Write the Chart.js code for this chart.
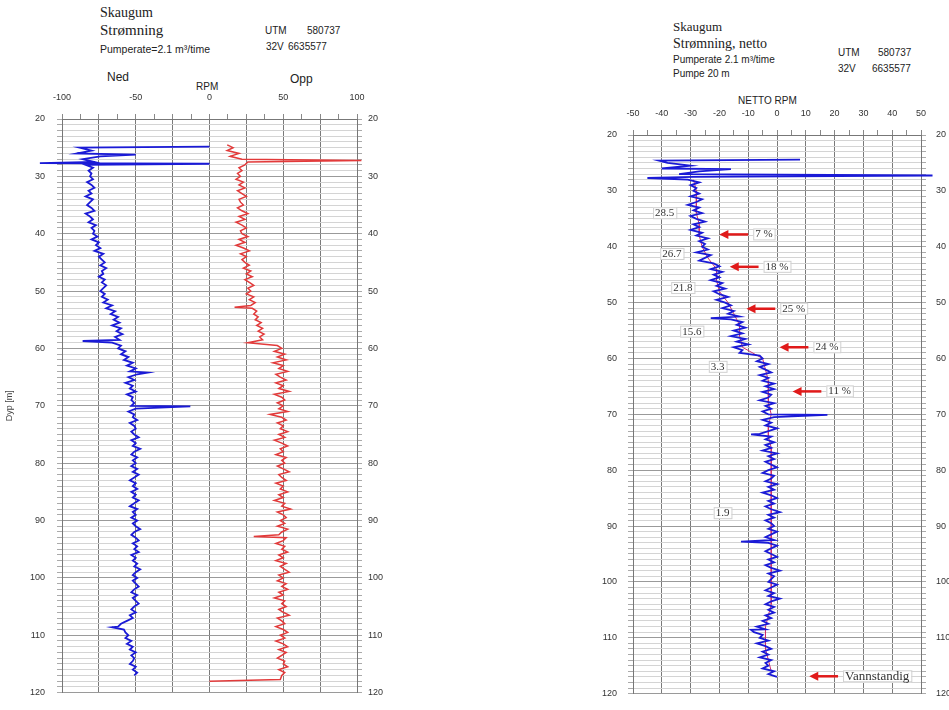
<!DOCTYPE html>
<html>
<head>
<meta charset="utf-8">
<script src="https://cdn.jsdelivr.net/npm/chart.js@4.4.0/dist/chart.umd.min.js"></script>
<style>
  body { margin: 0; background: #fff; width: 949px; height: 710px; overflow: hidden; position: relative;
         font-family: "Liberation Sans", Arial, sans-serif; color: #222; }
  .t { position: absolute; white-space: pre; line-height: 1; }
  .serif { font-family: "Liberation Serif", "Times New Roman", serif; }
  canvas { position: absolute; top: 0; }
</style>
</head>
<body>
<!-- left panel header -->
<div class="t serif" style="left:100px;top:6px;font-size:14px">Skaugum</div>
<div class="t serif" style="left:100px;top:23px;font-size:15px">Strømning</div>
<div class="t" style="left:100px;top:44px;font-size:10.5px">Pumperate=2.1 m³/time</div>
<div class="t" style="left:265px;top:26px;font-size:10px">UTM</div>
<div class="t" style="left:307px;top:26px;font-size:10px">580737</div>
<div class="t" style="left:266px;top:42px;font-size:10px">32V</div>
<div class="t" style="left:288px;top:42px;font-size:10px">6635577</div>
<div class="t" style="left:107px;top:71px;font-size:12px">Ned</div>
<div class="t" style="left:196px;top:82px;font-size:10px">RPM</div>
<div class="t" style="left:290px;top:73px;font-size:12px">Opp</div>

<!-- right panel header -->
<div class="t serif" style="left:673px;top:20px;font-size:13px">Skaugum</div>
<div class="t serif" style="left:673px;top:37px;font-size:14px">Strømning, netto</div>
<div class="t" style="left:673px;top:55px;font-size:10px">Pumperate 2.1 m³/time</div>
<div class="t" style="left:673px;top:69px;font-size:10px">Pumpe 20 m</div>
<div class="t" style="left:838px;top:48px;font-size:10px">UTM</div>
<div class="t" style="left:878px;top:48px;font-size:10px">580737</div>
<div class="t" style="left:838px;top:64px;font-size:10px">32V</div>
<div class="t" style="left:872px;top:64px;font-size:10px">6635577</div>
<div class="t" style="left:738px;top:96px;font-size:10px">NETTO RPM</div>

<canvas id="rawChart" width="400" height="710" style="left:0"></canvas>
<canvas id="nettoChart" width="389" height="710" style="left:560px"></canvas>

<script>
// depth sampling of the logged traces (m)
const depthTop = 25, depthStep = 0.5;

// Ned (downward flow, RPM), 25 - 117 m
const ned = [
  -88,-80,-90,-74,-86,-78,-84,-79,-82,-80,
  -81,-79,-83,-80,-78,-82,-80,-84,-79,-81,
  -83,-80,-78,-84,-81,-79,-82,-77,-80,-78,
  -79,-76,-80,-75,-77,-74,-78,-72,-75,-73,
  -71,-74,-70,-73,-72,-75,-71,-73,-70,-72,
  -74,-71,-73,-69,-72,-66,-70,-64,-67,-62,
  -65,-61,-66,-60,-63,-59,-64,-61,-66,-60,
  -62,-57,-60,-55,-58,-52,-56,-50,-54,-49,
  -55,-51,-57,-52,-54,-50,-56,-52,-53,-51,
  -53,-50,-55,-51,-52,-49,-54,-51,-50,-53,
  -51,-48,-53,-50,-52,-47,-51,-53,-49,-52,
  -50,-53,-49,-52,-48,-51,-54,-50,-52,-49,
  -53,-50,-52,-48,-51,-54,-49,-52,-50,-53,
  -49,-52,-50,-47,-51,-53,-50,-48,-52,-49,
  -51,-48,-53,-50,-52,-49,-51,-47,-50,-52,
  -49,-52,-50,-48,-51,-53,-49,-52,-50,-48,
  -51,-53,-50,-54,-52,-56,-60,-62,-58,-57,
  -55,-57,-53,-56,-52,-54,-50,-53,-51,-52,
  -54,-50,-52,-49,-51
];
// single readings between the regular samples [depth, RPM]
const nedSpikes = [[24.8, 0], [26.2, -50], [27.7, -115], [27.8, 0], [58.7, -86], [64.2, -42], [70.1, -13], [108.6, -66]];

// Opp (upward flow, RPM), 25 - 117 m
const opp = [
  16,12,20,14,22,26,24,20,22,19,
  21,18,23,20,24,19,22,25,20,21,
  23,19,22,26,20,24,18,22,25,21,
  22,26,20,24,18,23,27,21,25,22,
  24,27,23,28,25,29,24,27,30,26,
  28,25,30,27,31,28,29,32,30,33,
  31,35,32,36,33,37,34,36,26,46,
  49,44,51,46,52,43,50,47,53,45,
  48,52,45,50,47,54,44,49,51,46,
  50,47,53,41,49,52,46,50,48,53,
  47,51,44,49,53,48,50,45,52,49,
  51,46,50,54,47,49,52,45,50,48,
  53,47,50,44,51,49,55,46,50,52,
  48,51,46,53,49,47,52,50,45,51,
  49,53,47,50,45,52,48,51,54,47,
  50,46,52,49,53,47,50,44,51,49,
  52,47,50,54,46,49,51,45,50,53,
  48,51,45,50,53,47,52,49,46,51,
  50,53,47,51,49
];
const oppSpikes = [[24.5, 12], [27.25, 103], [52.8, 17], [92.8, 30], [117.7, 48], [118, 0]];

// Netto RPM, 25 - 117 m
const netto = [
  -38,-30,-40,-27,-34,-29,-31,-27,-30,-28,
  -29,-27,-30,-26,-28,-31,-27,-29,-26,-30,
  -28,-25,-29,-27,-30,-26,-28,-24,-27,-25,
  -26,-24,-28,-23,-25,-27,-22,-20,-23,-19,
  -22,-20,-23,-19,-21,-18,-22,-20,-17,-21,
  -18,-16,-19,-15,-17,-13,-16,-12,-14,-11,
  -15,-12,-16,-11,-14,-10,-15,-12,-13,-6,
  -5,-7,-3,-6,-4,-2,-6,-3,-5,-1,
  -4,-1,-5,-2,-3,-6,-1,-4,-2,-5,
  -3,-1,-5,-2,-4,0,-3,-6,-2,-4,
  -1,-4,-2,-5,0,-3,-1,-4,-2,0,
  -3,-5,-1,-2,-4,0,-3,-1,-5,-2,
  0,-3,-1,-4,-2,1,-3,-1,-4,-2,
  -1,-3,0,-2,-4,-1,-3,0,-2,-4,
  -2,0,-3,-1,-4,-2,1,-3,-1,-2,
  -3,0,-2,-4,-1,-3,1,-2,-4,-1,
  -3,-1,-4,-2,-5,-3,-7,-4,-8,-5,
  -6,-3,-7,-4,-2,-5,-3,-6,-2,-4,
  -3,-5,-1,-3,0
];
const nettoSpikes = [[24.4, 8], [24.6, -41], [26.1, -16], [27.25, 54], [27.7, -45], [52.8, -23], [70.1, 17.5], [73.6, -9], [92.8, -12.5], [108.6, -9]];

// smoothed netto curve (red)
const smoothDepth = [28,30,32,34,36,38,40,42,44,46,48,50,52,54,56,58,60,62,64,66,68,70,72,74,76,78,80,82,84,86,88,90,92,94,96,98,100,102,104,106,108,110,112,114,116];
const smoothRpm = [-29,-28,-28,-28,-27,-27,-26,-24,-21,-21,-20,-17,-15,-13,-13,-12,-5,-4,-3,-3,-3,-2,-3,-3,-2,-2,-2,-2,-2,-2,-2,-2,-2,-2,-2,-2,-2,-2,-2,-3,-4,-4,-4,-3,-2];

// labels on the netto panel
const sectionText = ['28.5', '26.7', '21.8', '15.6', '3.3', '1.9'];
const sectionRpm = [-39, -36.5, -32.7, -29.6, -20.6, -18.9];
const sectionDepth = [34, 41.3, 47.4, 55.2, 61.5, 87.7];
const inflowText = ['7 %', '18 %', '25 %', '24 %', '11 %', 'Vannstandig'];
const inflowRpm = [-20, -16.4, -10.6, 0.9, 5.4, 11.2];
const inflowDepth = [37.8, 43.6, 51.1, 58, 65.9, 116.9];

function trace(values, extra) {
  const pts = values.map((v, i) => ({ x: v, y: depthTop + i * depthStep }));
  extra.forEach(([d, v]) => pts.push({ x: v, y: d }));
  return pts.sort((a, b) => a.y - b.y);
}

function depthAxis(pos, width, pad) {
  return {
    type: 'linear', position: pos, min: 20, max: 120, reverse: true,
    afterFit: s => { s.width = width; },
    ticks: {
      stepSize: 1, maxTicksLimit: 200, autoSkip: false, padding: pad, color: '#333', font: { size: 9 },
      callback: v => (v % 10 === 0 ? String(v) : '')
    },
    grid: {
      drawOnChartArea: pos === 'left',
      color: c => (c.tick && c.tick.value % 10 === 0 ? '#9a9a9a' : '#d4d4d4'),
      tickColor: '#aaa', tickLength: 5
    },
    border: { color: '#777' }
  };
}

function rpmAxis(min, max, step, labelEvery, lineEvery) {
  return {
    type: 'linear', position: 'top', min: min, max: max,
    afterFit: s => { s.height = 30; },
    ticks: {
      stepSize: step, maxTicksLimit: 100, autoSkip: false, maxRotation: 0, padding: 11, color: '#333', font: { size: 9 },
      callback: v => (Math.abs(v % labelEvery) < 1e-6 ? String(v) : '')
    },
    grid: {
      color: c => (c.tick && Math.abs(c.tick.value % lineEvery) < 1e-6 ? '#7a7a7a' : 'rgba(0,0,0,0)'),
      tickColor: '#888', tickLength: 5
    },
    border: { color: '#777' }
  };
}

// arrows and boxed numbers on the netto panel
const nettoLabels = {
  id: 'nettoLabels',
  afterDatasetsDraw(chart) {
    const ctx = chart.ctx, xs = chart.scales.x, ys = chart.scales.y;
    ctx.save();
    ctx.textBaseline = 'middle';
    ctx.font = '11px "Liberation Serif", serif';
    sectionText.forEach((t, i) => {
      const x = xs.getPixelForValue(sectionRpm[i]), y = ys.getPixelForValue(sectionDepth[i]);
      const w = ctx.measureText(t).width + 4;
      ctx.fillStyle = '#fff';
      ctx.fillRect(x - w / 2, y - 6, w, 12);
      ctx.strokeStyle = '#d0d0d0';
      ctx.lineWidth = 1;
      ctx.strokeRect(x - w / 2 + 0.5, y - 5.5, w, 11);
      ctx.fillStyle = '#333';
      ctx.textAlign = 'center';
      ctx.fillText(t, x, y);
    });
    inflowText.forEach((t, i) => {
      const head = xs.getPixelForValue(inflowRpm[i]);
      const tail = xs.getPixelForValue(inflowRpm[i] + 10);
      const y = ys.getPixelForValue(inflowDepth[i]);
      ctx.strokeStyle = '#e01a1a';
      ctx.fillStyle = '#e01a1a';
      ctx.lineWidth = 2.5;
      ctx.beginPath();
      ctx.moveTo(tail, y);
      ctx.lineTo(head + 6, y);
      ctx.stroke();
      ctx.beginPath();
      ctx.moveTo(head, y);
      ctx.lineTo(head + 9, y - 4.5);
      ctx.lineTo(head + 9, y + 4.5);
      ctx.closePath();
      ctx.fill();
      ctx.font = (i === inflowText.length - 1 ? '13px' : '11px') + ' "Liberation Serif", serif';
      const w = ctx.measureText(t).width + 4;
      const lx = tail + 5;
      ctx.fillStyle = '#fff';
      ctx.fillRect(lx, y - 6, w, 12);
      ctx.strokeStyle = '#d0d0d0';
      ctx.lineWidth = 1;
      ctx.strokeRect(lx + 0.5, y - 5.5, w, 11);
      ctx.fillStyle = '#333';
      ctx.textAlign = 'left';
      ctx.fillText(t, lx + 2, y);
    });
    ctx.restore();
  }
};

Chart.defaults.font.family = '"Liberation Sans", Arial, sans-serif';

const baseOptions = (padding, scales) => ({
  responsive: false, animation: false,
  layout: { padding: padding },
  plugins: { legend: { display: false }, tooltip: { enabled: false } },
  elements: { point: { radius: 0 } },
  scales: scales
});

const rawLeft = depthAxis('left', 62, 12);
rawLeft.title = { display: true, text: 'Dyp [m]', color: '#444', font: { size: 9 }, padding: { top: 4, bottom: 0 } };

new Chart(document.getElementById('rawChart'), {
  type: 'scatter',
  data: {
    datasets: [
      { label: 'Ned', data: trace(ned, nedSpikes), showLine: true, borderColor: '#1a1ad6', borderWidth: 1.8, clip: 25 },
      { label: 'Opp', data: trace(opp, oppSpikes), showLine: true, borderColor: '#e23a3a', borderWidth: 1.5, clip: 25 }
    ]
  },
  options: baseOptions({ top: 89, bottom: 3, left: 0, right: 0 }, {
    x: rpmAxis(-100, 100, 12.5, 50, 25),
    y: rawLeft,
    y2: depthAxis('right', 43, 6)
  })
});

new Chart(document.getElementById('nettoChart'), {
  type: 'scatter',
  data: {
    datasets: [
      { label: 'Netto', data: trace(netto, nettoSpikes), showLine: true, borderColor: '#1a1ad6', borderWidth: 1.8, clip: 20 },
      { label: 'Glattet', data: smoothDepth.map((d, i) => ({ x: smoothRpm[i], y: d })), showLine: true, borderColor: '#d0306a', borderWidth: 1 }
    ]
  },
  options: baseOptions({ top: 105, bottom: 2, left: 0, right: 0 }, {
    x: rpmAxis(-50, 50, 5, 10, 10),
    y: depthAxis('left', 73, 11),
    y2: depthAxis('right', 28, 10)
  }),
  plugins: [nettoLabels]
});
</script>
</body>
</html>
